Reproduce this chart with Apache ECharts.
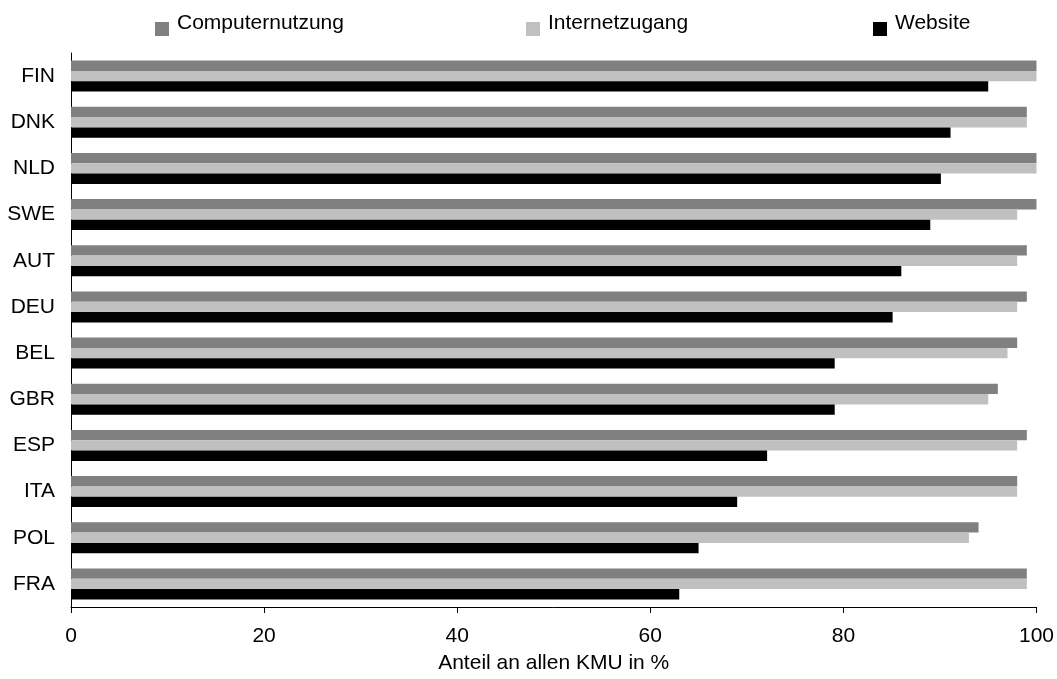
<!DOCTYPE html>
<html>
<head>
<meta charset="utf-8">
<script src="https://cdn.jsdelivr.net/npm/echarts@6/dist/echarts.min.js"></script>
<style>html,body{margin:0;padding:0;background:#fff}#c{width:1057px;height:679px}</style>
</head>
<body>
<div id="c"></div>
<script>
const categories = ['FIN','DNK','NLD','SWE','AUT','DEU','BEL','GBR','ESP','ITA','POL','FRA'];
const computernutzung = [100, 99, 100, 100, 99, 99, 98, 96, 99, 98, 94, 99];
const internetzugang = [100, 99, 100, 98, 98, 98, 97, 95, 98, 98, 93, 99];
const website = [95, 91.1, 90.1, 89, 86, 85.1, 79.1, 79.1, 72.1, 69, 65, 63];
const xTicks = [0, 20, 40, 60, 80, 100];

const font = 'Liberation Sans, Arial, sans-serif';
const chart = echarts.init(document.getElementById('c'));
const legendBase = {top: 10, itemWidth: 14, itemHeight: 26, padding: 0,
  icon: 'path://M0,0M0,12L14,12L14,26L0,26Z',
  textStyle: {fontFamily: font, fontSize: 21, color: '#000', padding: [0,0,0,3]}};
chart.setOption({
  animation: false,
  legend: [
    Object.assign({left: 155, data: ['Computernutzung']}, legendBase),
    Object.assign({left: 526, data: ['Internetzugang']}, legendBase),
    Object.assign({left: 873, data: ['Website']}, legendBase)
  ],
  grid: {left: 71, right: 19, top: 53, bottom: 66},
  xAxis: {
    type: 'value', min: xTicks[0], max: xTicks[xTicks.length-1], interval: 20,
    name: 'Anteil an allen KMU in %', nameLocation: 'middle', nameGap: 46,
    nameTextStyle: {fontFamily: font, fontSize: 21, color: '#000'},
    axisLine: {show: true, lineStyle: {color: '#000', width: 1}},
    axisTick: {show: true, length: 6, lineStyle: {color: '#000'}},
    axisLabel: {fontFamily: font, fontSize: 21, color: '#000', margin: 19},
    splitLine: {show: false}
  },
  yAxis: {
    type: 'category', data: categories, inverse: true,
    axisLine: {show: true, lineStyle: {color: '#000', width: 1}},
    axisTick: {show: false},
    axisLabel: {fontFamily: font, fontSize: 21, color: '#000', margin: 16}
  },
  series: [
    {name: 'Computernutzung', type: 'bar', data: computernutzung, itemStyle: {color: '#808080'}, barGap: '0%', barCategoryGap: '33%'},
    {name: 'Internetzugang', type: 'bar', data: internetzugang, itemStyle: {color: '#c0c0c0'}, barGap: '0%', barCategoryGap: '33%'},
    {name: 'Website', type: 'bar', data: website, itemStyle: {color: '#000000'}, barGap: '0%', barCategoryGap: '33%'}
  ]
});
</script>
</body>
</html>
